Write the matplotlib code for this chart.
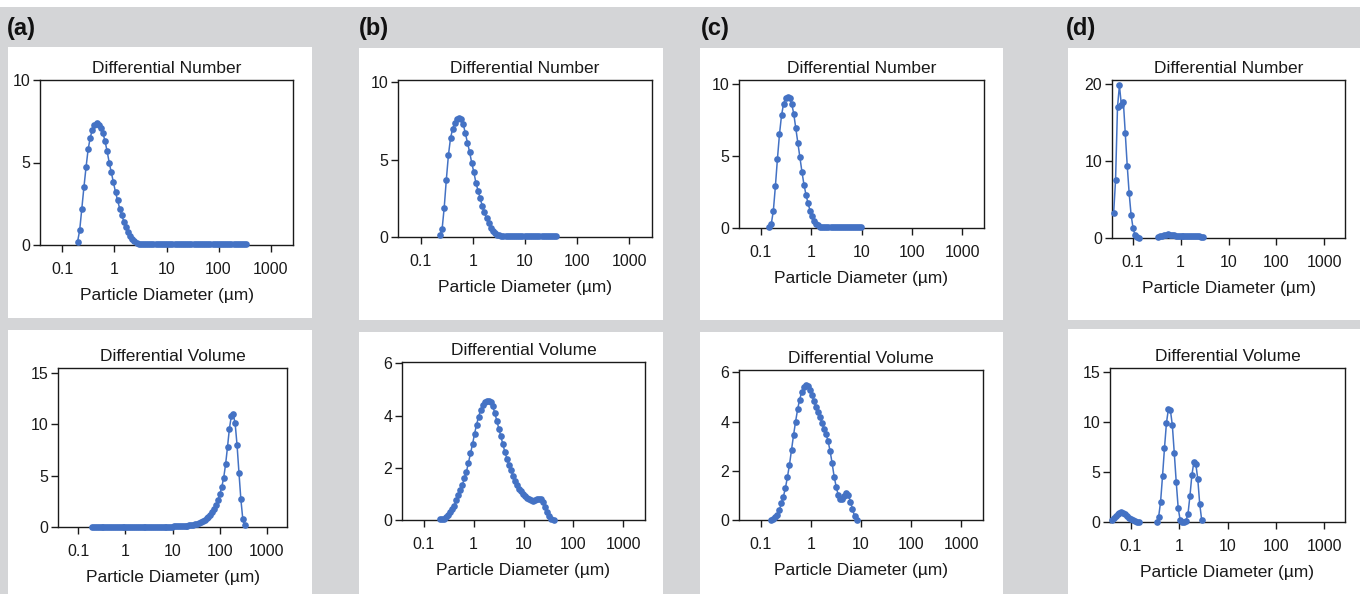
"""Particle size distributions: differential number / volume for four samples."""

import matplotlib

matplotlib.use("Agg")
import matplotlib.pyplot as plt  # noqa: E402
from matplotlib.patches import Rectangle  # noqa: E402

plt.rcParams["font.family"] = ["Liberation Sans", "DejaVu Sans"]

W, H = 1360, 594
BLUE = "#4472C4"
BG = "#d4d5d7"
INK = "#1a1a1a"

# analyser channel diameters (um)
DIAMETERS = [
    0.0400, 0.0439, 0.0482, 0.0529, 0.0581, 0.0638, 0.0700, 0.0769, 0.0844, 0.0926,
    0.1017, 0.1116, 0.1225, 0.1345, 0.1477, 0.1621, 0.1779, 0.1953, 0.2144, 0.2354,
    0.2584, 0.2837, 0.3114, 0.3418, 0.3752, 0.4119, 0.4522, 0.4964, 0.5449, 0.5982,
    0.6566, 0.7208, 0.7913, 0.8686, 0.9535, 1.047, 1.149, 1.261, 1.385, 1.520,
    1.669, 1.832, 2.011, 2.208, 2.424, 2.661, 2.921, 3.207, 3.520, 3.865,
    4.243, 4.658, 5.113, 5.613, 6.162, 6.765, 7.427, 8.153, 8.951, 9.826,
    10.79, 11.84, 13.00, 14.27, 15.67, 17.20, 18.88, 20.73, 22.76, 24.98,
    27.43, 30.11, 33.06, 36.29, 39.84, 43.74, 48.02, 52.71, 57.87, 63.53,
    69.74, 76.57, 84.06, 92.28, 101.3, 111.2, 122.1, 134.0, 147.2, 161.6,
    177.4, 194.7, 213.8, 234.7, 257.7, 282.9, 310.5, 340.9, 374.3, 410.9,
    451.1, 495.2, 543.6, 596.8, 655.2, 719.3, 789.7, 866.9, 951.8, 1045,
    1147, 1259, 1382, 1518, 1666, 1829, 2008,
]

XTICKS = [0.1, 1, 10, 100, 1000]
XTICK_LABELS = ["0.1", "1", "10", "100", "1000"]

# (a) differential number / volume
A_NUM_FROM = 0.1953
A_NUM = [
    0.2, 0.9, 2.2, 3.5, 4.7, 5.8, 6.5, 7.0, 7.3, 7.4,
    7.3, 7.1, 6.8, 6.3, 5.7, 5.0, 4.4, 3.8, 3.2, 2.7,
    2.2, 1.8, 1.4, 1.1, 0.8, 0.55, 0.35, 0.22, 0.14, 0.09,
    0.08, 0.07, 0.07, 0.06, 0.06, 0.06, 0.06, 0.06, 0.05, 0.05,
    0.05, 0.05, 0.05, 0.05, 0.05, 0.05, 0.05, 0.05, 0.05, 0.05,
    0.05, 0.05, 0.05, 0.05, 0.05, 0.05, 0.05, 0.05, 0.05, 0.05,
    0.05, 0.05, 0.05, 0.05, 0.05, 0.05, 0.05, 0.05, 0.05, 0.05,
    0.05, 0.05, 0.05, 0.05, 0.05, 0.05, 0.05, 0.05, 0.05, 0.05,
    0.04,
]
A_VOL_FROM = 0.1953
A_VOL = [
    0.01, 0.01, 0.01, 0.01, 0.01, 0.01, 0.01, 0.01, 0.01, 0.01,
    0.01, 0.01, 0.01, 0.01, 0.01, 0.01, 0.01, 0.01, 0.01, 0.01,
    0.02, 0.02, 0.02, 0.02, 0.02, 0.02, 0.02, 0.02, 0.02, 0.02,
    0.02, 0.02, 0.02, 0.02, 0.02, 0.02, 0.03, 0.03, 0.03, 0.03,
    0.03, 0.04, 0.04,
    0.05, 0.06, 0.07, 0.08, 0.09, 0.1, 0.12, 0.14, 0.16, 0.19,
    0.22, 0.26, 0.31, 0.37, 0.45, 0.55, 0.68, 0.83, 1.0, 1.2,
    1.45, 1.75, 2.1, 2.6, 3.2, 3.9, 4.8, 6.1, 7.8, 9.6,
    10.8, 11.0, 10.1, 8.0, 5.3, 2.7, 0.8, 0.15,
]

# (b)
B_NUM_FROM = 0.2354
B_NUM = [
    0.1, 0.5, 1.9, 3.7, 5.3, 6.4, 7.0, 7.4, 7.6, 7.7,
    7.6, 7.3, 6.7, 6.1, 5.5, 4.8, 4.2, 3.5, 3.0, 2.5,
    2.0, 1.6, 1.2, 0.9, 0.6, 0.4, 0.25, 0.15, 0.1,
    0.08, 0.07, 0.06, 0.06, 0.06, 0.05, 0.05, 0.05, 0.05, 0.05,
    0.05, 0.05, 0.05, 0.05, 0.05, 0.05, 0.05, 0.05, 0.05, 0.05,
    0.05, 0.05, 0.05, 0.05, 0.05, 0.04, 0.04,
]
B_VOL_FROM = 0.2144
B_VOL = [
    0.02, 0.03, 0.05, 0.1, 0.2, 0.3, 0.42, 0.55, 0.75, 0.95,
    1.15, 1.35, 1.6, 1.85, 2.2, 2.55, 2.9, 3.3, 3.65, 3.95,
    4.2, 4.4, 4.5, 4.55, 4.55, 4.5, 4.35, 4.1, 3.8, 3.5,
    3.2, 2.9, 2.6, 2.35, 2.1, 1.9, 1.7, 1.5, 1.35, 1.2,
    1.1, 1.0, 0.93, 0.86, 0.8, 0.76, 0.74, 0.75, 0.8, 0.82,
    0.8, 0.7, 0.5, 0.3, 0.15, 0.05, 0.0,
]

# (c)
C_NUM_FROM = 0.1477
C_NUM = [
    0.1, 0.3, 1.2, 2.9, 4.8, 6.5, 7.8, 8.6, 9.0, 9.05,
    9.0, 8.6, 7.9, 6.9, 5.9, 4.9, 3.9, 3.0, 2.3, 1.7,
    1.2, 0.8, 0.5, 0.3, 0.18, 0.1,
    0.08, 0.07, 0.06, 0.06, 0.05, 0.05, 0.05, 0.05, 0.05, 0.05,
    0.05, 0.05, 0.05, 0.05, 0.05, 0.05, 0.05, 0.05, 0.04, 0.04,
]
C_VOL_FROM = 0.1621
C_VOL = [
    0.02, 0.05, 0.12, 0.22, 0.4, 0.68, 0.95, 1.3, 1.75, 2.25,
    2.85, 3.45, 4.0, 4.5, 4.9, 5.2, 5.4, 5.5, 5.45, 5.3,
    5.1, 4.85, 4.6, 4.4, 4.2, 3.95, 3.7, 3.5, 3.2, 2.8,
    2.3, 1.75, 1.35, 1.0, 0.85, 0.85, 0.98, 1.08, 1.02, 0.75,
    0.45, 0.15, 0.02,
]

# (d) two separate size populations per distribution
D_NUM_FINE_FROM = 0.0400
D_NUM_FINE = [3.2, 7.5, 17.0, 19.8, 17.2, 17.7, 13.6, 9.4, 5.8, 3.0, 1.3, 0.4, 0.1, 0.0]
D_NUM_COARSE_FROM = 0.3418
D_NUM_COARSE = [
    0.15, 0.25, 0.3, 0.4, 0.45, 0.5, 0.45, 0.4, 0.35, 0.3,
    0.3, 0.3, 0.25, 0.25, 0.25, 0.25, 0.25, 0.25, 0.2, 0.2,
    0.2, 0.2, 0.15, 0.1,
]
D_VOL_FINE_FROM = 0.0400
D_VOL_FINE = [0.2, 0.4, 0.65, 0.85, 0.95, 1.0, 0.95, 0.8, 0.6, 0.45, 0.3, 0.2, 0.1, 0.05, 0.02]
D_VOL_COARSE_FROM = 0.3418
D_VOL_COARSE = [
    0.0, 0.5, 2.0, 4.6, 7.4, 9.9, 11.3, 11.2, 9.7, 6.9,
    4.0, 1.4, 0.2, 0.0, 0.05, 0.15, 0.8, 2.6, 4.7, 6.0,
    5.8, 4.3, 1.8, 0.2,
]

# layout in reference pixels: white card (x0, y0, x1, y1), axes (left, top, right, bottom)
PANELS = [
    dict(label="(a)", label_xy=(7, 29), card=(8, 47, 312, 318), axes=(40, 80, 293, 245),
         title="Differential Number", series=[(A_NUM_FROM, A_NUM)],
         ylim=10, yticks=[0, 5, 10]),
    dict(card=(8, 330, 312, 594), axes=(58, 368, 287, 527),
         title="Differential Volume", series=[(A_VOL_FROM, A_VOL)],
         ylim=15.5, yticks=[0, 5, 10, 15]),
    dict(label="(b)", label_xy=(359, 29), card=(359, 48, 663, 320), axes=(398, 80, 652, 237),
         title="Differential Number", series=[(B_NUM_FROM, B_NUM)],
         ylim=10.15, yticks=[0, 5, 10]),
    dict(card=(359, 332, 663, 594), axes=(402, 362, 645, 520),
         title="Differential Volume", series=[(B_VOL_FROM, B_VOL)],
         ylim=6.05, yticks=[0, 2, 4, 6]),
    dict(label="(c)", label_xy=(701, 29), card=(700, 48, 1003, 320), axes=(739, 80, 984, 228),
         title="Differential Number", series=[(C_NUM_FROM, C_NUM)],
         ylim=10.25, yticks=[0, 5, 10]),
    dict(card=(700, 332, 1003, 594), axes=(739, 370, 983, 520),
         title="Differential Volume", series=[(C_VOL_FROM, C_VOL)],
         ylim=6.1, yticks=[0, 2, 4, 6]),
    dict(label="(d)", label_xy=(1066, 29), card=(1068, 48, 1360, 320), axes=(1112, 80, 1345, 238),
         title="Differential Number",
         series=[(D_NUM_FINE_FROM, D_NUM_FINE), (D_NUM_COARSE_FROM, D_NUM_COARSE)],
         ylim=20.5, yticks=[0, 10, 20]),
    dict(card=(1068, 329, 1360, 594), axes=(1110, 368, 1345, 522),
         title="Differential Volume",
         series=[(D_VOL_FINE_FROM, D_VOL_FINE), (D_VOL_COARSE_FROM, D_VOL_COARSE)],
         ylim=15.4, yticks=[0, 5, 10, 15]),
]


def _diam(start, values):
    i = DIAMETERS.index(start)
    return DIAMETERS[i:i + len(values)]


def draw_panel(fig, p):
    x0, y0, x1, y1 = p["card"]
    fig.add_artist(Rectangle((x0 / W, 1 - y1 / H), (x1 - x0) / W, (y1 - y0) / H,
                             transform=fig.transFigure, facecolor="white",
                             edgecolor="none", zorder=0))
    if "label" in p:
        lx, ly = p["label_xy"]
        fig.text(lx / W, 1 - ly / H, p["label"], fontsize=17, fontweight="bold",
                 ha="left", va="center", color="#111111")

    l, t, r, b = p["axes"]
    ax = fig.add_axes([l / W, 1 - b / H, (r - l) / W, (b - t) / H])
    for start, values in p["series"]:
        ax.plot(_diam(start, values), values, "-o", color=BLUE, lw=1.1,
                markersize=4.8, markeredgewidth=0, clip_on=False, zorder=3)

    ax.set_xscale("log")
    ax.set_xlim(0.037, 2700)
    ax.set_xticks(XTICKS)
    ax.set_xticklabels(XTICK_LABELS)
    ax.minorticks_off()
    ax.set_ylim(0, p["ylim"])
    ax.set_yticks(p["yticks"])
    ax.tick_params(direction="out", length=5, width=1, labelsize=11.5,
                   color=INK, labelcolor=INK)
    ax.tick_params(axis="x", pad=7)
    ax.tick_params(axis="y", pad=2)
    for sp in ax.spines.values():
        sp.set_linewidth(1.0)
        sp.set_color(INK)
    ax.set_title(p["title"], fontsize=12.5, pad=5, color=INK)
    ax.set_xlabel("Particle Diameter (\u00b5m)", fontsize=12.5, labelpad=8, color=INK)


def main():
    fig = plt.figure(figsize=(W / 100, H / 100), dpi=100, facecolor=BG)
    fig.add_artist(Rectangle((0, 1 - 7 / H), 1, 7 / H, transform=fig.transFigure,
                             facecolor="white", edgecolor="none", zorder=0))
    for p in PANELS:
        draw_panel(fig, p)
    fig.savefig("out.png", dpi=100, facecolor=BG)
    plt.close(fig)


if __name__ == "__main__":
    main()
